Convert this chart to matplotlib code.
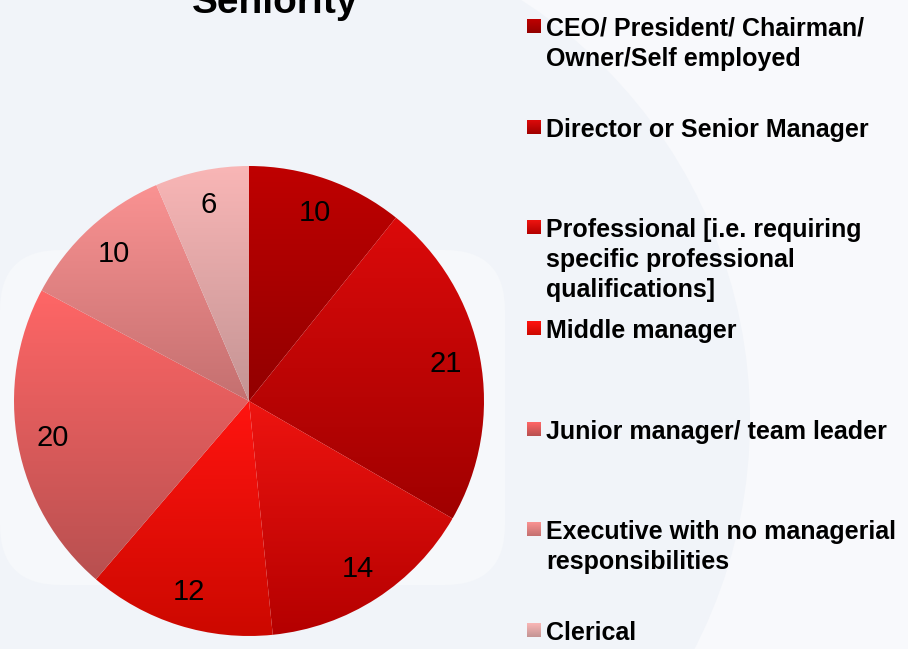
import numpy as np
import matplotlib.pyplot as plt
from matplotlib.patches import Circle, FancyBboxPatch
from matplotlib.colors import LinearSegmentedColormap

plt.rcParams['font.family'] = ['Liberation Sans', 'DejaVu Sans']

# data
categories = ['CEO/ President/ Chairman/\nOwner/Self employed',
              'Director or Senior Manager',
              'Professional [i.e. requiring\nspecific professional\nqualifications]',
              'Middle manager',
              'Junior manager/ team leader',
              'Executive with no managerial\nresponsibilities',
              'Clerical']
values = [10, 21, 14, 12, 20, 10, 6]
# top / bottom colour of each slice gradient
top_colors = ['#bf0000', '#dc0a0a', '#ee1410', '#ff1410', '#ff6666', '#fa9292', '#f9b6b6']
bottom_colors = ['#920000', '#a00000', '#b40000', '#cc0800', '#b85050', '#c47070', '#c49494']

W, H = 908, 649
fig = plt.figure(figsize=(W / 100, H / 100), dpi=100)
fig.patch.set_facecolor('#f8f9fc')

# background in pixel coordinates
bg = fig.add_axes([0, 0, 1, 1])
bg.set_xlim(0, W)
bg.set_ylim(H, 0)
bg.axis('off')
bg.add_patch(Circle((250, 420), 500, color='#f1f4f9', lw=0))
bg.add_patch(FancyBboxPatch((0, 250), 505, 335, boxstyle='round,pad=0,rounding_size=60',
                            color='#f6f8fb', lw=0))

# pie
cx, cy, r = 249, 401, 235
ax = fig.add_axes([(cx - r) / W, (H - cy - r) / H, 2 * r / W, 2 * r / H])
total = sum(values)
wedges, texts, autotexts = ax.pie(values, startangle=90, counterclock=False,
                                  autopct=lambda p: f'{p * total / 100:.0f}',
                                  pctdistance=0.85,
                                  wedgeprops=dict(linewidth=0),
                                  textprops=dict(fontsize=21, color='black'))

grad = np.linspace(0, 1, 256).reshape(-1, 1)
for w, c1, c2 in zip(wedges, top_colors, bottom_colors):
    t = np.radians(np.linspace(w.theta1, w.theta2, 100))
    ys = np.concatenate([np.sin(t), [0]])
    cmap = LinearSegmentedColormap.from_list('g', [c2, c1])
    im = ax.imshow(grad, cmap=cmap, origin='lower', aspect='auto',
                   extent=(-1, 1, ys.min(), ys.max()), zorder=2)
    im.set_clip_path(w)
    w.set_alpha(0)
for t in autotexts:
    t.set_zorder(5)
ax.set_xlim(-1, 1)
ax.set_ylim(-1, 1)

# title (cut off at the top)
fig.text(275 / W, 1 - 13 / H, 'Seniority', fontsize=28, fontweight='bold',
         ha='center', va='baseline')

# legend
sq_grad = np.linspace(0, 1, 32).reshape(-1, 1)
for i, (lab, c1, c2) in enumerate(zip(categories, top_colors, bottom_colors)):
    y0 = 19 + i * 100.7
    cmap = LinearSegmentedColormap.from_list('g', [c1, c2])
    bg.imshow(sq_grad, cmap=cmap, aspect='auto', extent=(527, 541, y0 + 14, y0), zorder=3)
    for k, line in enumerate(lab.split('\n')):
        bg.text(546, y0 + 17 + k * 30, line, fontsize=18, fontweight='bold',
                va='baseline', zorder=4)
bg.set_xlim(0, W)
bg.set_ylim(H, 0)

fig.savefig('out.png', dpi=100, facecolor=fig.get_facecolor())
